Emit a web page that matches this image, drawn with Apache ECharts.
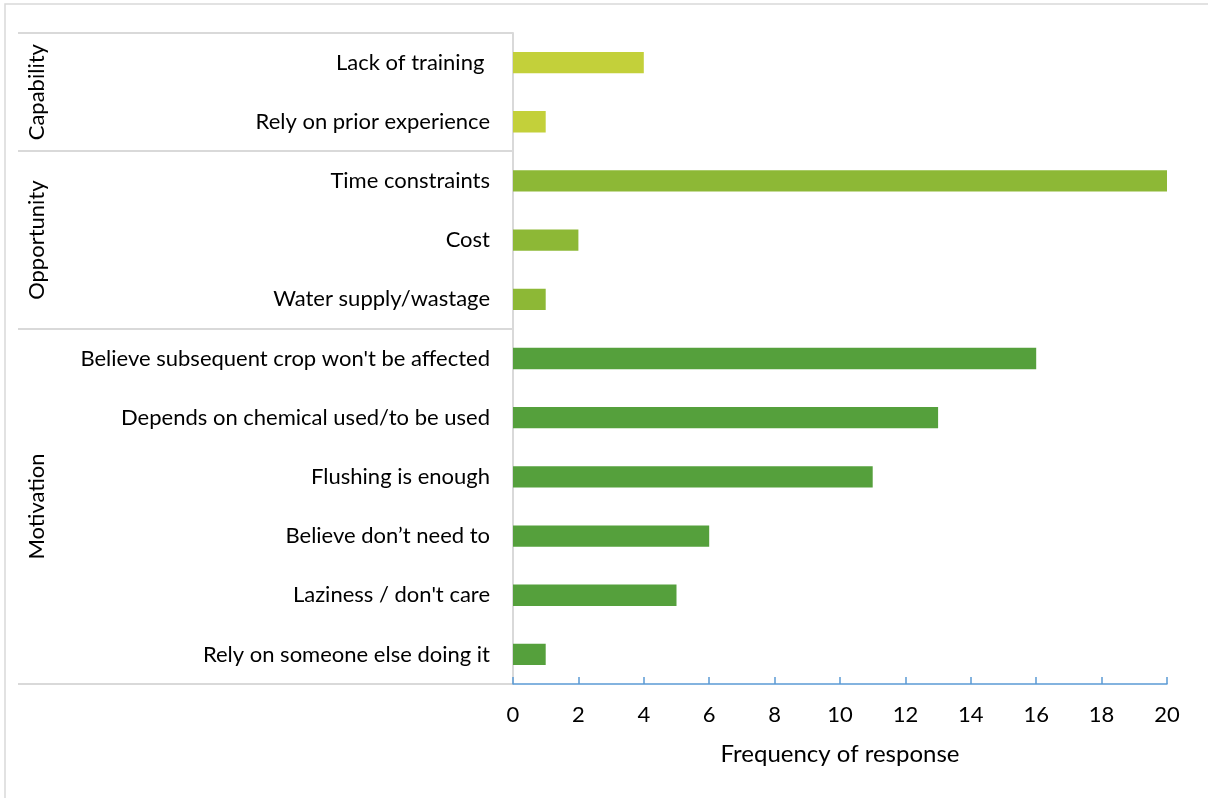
<!DOCTYPE html>
<html><head><meta charset="utf-8">
<script src="https://cdn.jsdelivr.net/npm/echarts@6/dist/echarts.min.js"></script>
<style>html,body{margin:0;padding:0;background:#fff}#c{width:1208px;height:798px}</style>
</head><body><div id="c"></div>
<script>
const categories = ["Lack of training ", "Rely on prior experience", "Time constraints", "Cost", "Water supply/wastage",
  "Believe subsequent crop won't be affected", "Depends on chemical used/to be used", "Flushing is enough",
  "Believe don\u2019t need to", "Laziness / don't care", "Rely on someone else doing it"];
const values = [4, 1, 20, 2, 1, 16, 13, 11, 6, 5, 1];
const groups = ["Capability", "Capability", "Opportunity", "Opportunity", "Opportunity",
  "Motivation", "Motivation", "Motivation", "Motivation", "Motivation", "Motivation"];
const groupNames = ["Capability", "Opportunity", "Motivation"];
const groupColors = {"Capability": "#C3D03A", "Opportunity": "#8DB836", "Motivation": "#55A03C"};
const xTicks = [0, 2, 4, 6, 8, 10, 12, 14, 16, 18, 20];

const FONT = "Lato";
const chart = echarts.init(document.getElementById('c'), null, {renderer: 'canvas'});
const option = {
  animation: false,
  backgroundColor: '#fff',
  textStyle: {fontFamily: FONT},
  grid: {left: 513, right: 41, top: 33, bottom: 114},
  xAxis: {
    type: 'value', min: xTicks[0], max: xTicks[xTicks.length - 1], interval: 2,
    splitLine: {show: false},
    axisLine: {show: true, lineStyle: {color: '#5B9BD5', width: 1.5}},
    axisTick: {show: true, inside: true, length: 7, lineStyle: {color: '#5B9BD5', width: 1.5}},
    axisLabel: {fontSize: 22, color: '#000', margin: 20, fontFamily: FONT},
    name: 'Frequency of response', nameLocation: 'middle', nameGap: 58,
    nameTextStyle: {fontSize: 24, color: '#000', fontFamily: FONT}
  },
  yAxis: {
    type: 'category', data: categories, inverse: true,
    axisLine: {show: true, lineStyle: {color: '#D9D9D9', width: 2}},
    axisTick: {show: false},
    axisLabel: {fontSize: 22, color: '#000', margin: 23, fontFamily: FONT}
  },
  series: [{
    type: 'bar', barWidth: '36%',
    data: values.map((v, i) => ({value: v, itemStyle: {color: groupColors[groups[i]]}}))
  }]
};
chart.setOption(option);

// group separators and labels, positioned via the axis scale
const half = chart.convertToPixel({yAxisIndex: 0}, categories[1]) - chart.convertToPixel({yAxisIndex: 0}, categories[0]);
const x0 = chart.convertToPixel({xAxisIndex: 0}, 0);
const g = [];
g.push({type: 'rect', shape: {x: 5, y: 4, width: 1210, height: 800}, style: {fill: 'none', stroke: '#D9D9D9', lineWidth: 1.5}, silent: true});
const bounds = [];
groupNames.forEach(gn => {
  const idx = groups.map((v, i) => v === gn ? i : -1).filter(i => i >= 0);
  const top = chart.convertToPixel({yAxisIndex: 0}, categories[idx[0]]) - half / 2;
  const bot = chart.convertToPixel({yAxisIndex: 0}, categories[idx[idx.length - 1]]) + half / 2;
  bounds.push(top, bot);
  g.push({type: 'text', x: 37, y: (top + bot) / 2, rotation: Math.PI / 2,
    style: {text: gn, font: '22px ' + FONT, fill: '#000', textAlign: 'center', textVerticalAlign: 'middle'}});
});
const uniq = [...new Set(bounds.map(b => Math.round(b)))];
uniq.forEach(y => {
  g.push({type: 'line', shape: {x1: 18, y1: y, x2: x0, y2: y}, style: {stroke: '#D9D9D9', lineWidth: 2}, silent: true});
});
chart.setOption({graphic: g});
</script></body></html>
